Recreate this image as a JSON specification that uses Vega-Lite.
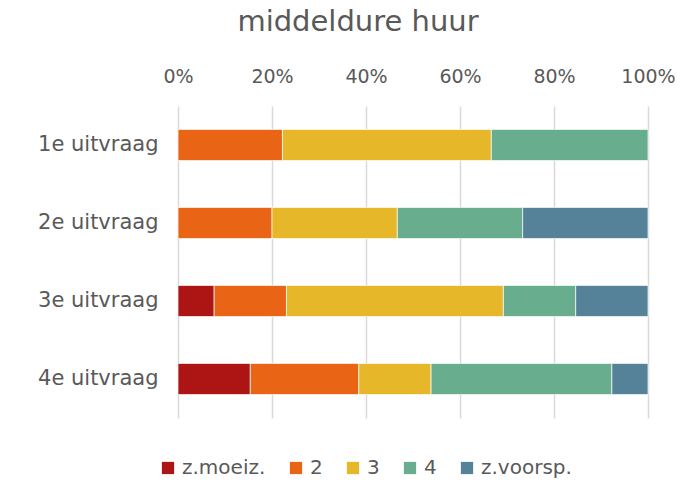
{
  "$schema": "https://vega.github.io/schema/vega-lite/v6.json",
  "width": 470,
  "height": 312,
  "autosize": {"type": "none"},
  "padding": {"left": 178, "top": 106, "right": 34, "bottom": 66},
  "background": "white",
  "config": {"font": "DejaVu Sans", "view": {"stroke": null}},
  "title": {
    "text": "middeldure huur",
    "fontSize": 29,
    "fontWeight": "normal",
    "color": "#595959",
    "anchor": "middle",
    "offset": 30,
    "dx": -55
  },
  "data": {
    "values": [
      {"vraag": "1e uitvraag", "cat": "2", "n": 2, "k": 2},
      {"vraag": "1e uitvraag", "cat": "3", "n": 4, "k": 3},
      {"vraag": "1e uitvraag", "cat": "4", "n": 3, "k": 4},
      {"vraag": "2e uitvraag", "cat": "2", "n": 3, "k": 2},
      {"vraag": "2e uitvraag", "cat": "3", "n": 4, "k": 3},
      {"vraag": "2e uitvraag", "cat": "4", "n": 4, "k": 4},
      {"vraag": "2e uitvraag", "cat": "z.voorsp.", "n": 4, "k": 5},
      {"vraag": "3e uitvraag", "cat": "z.moeiz.", "n": 1, "k": 1},
      {"vraag": "3e uitvraag", "cat": "2", "n": 2, "k": 2},
      {"vraag": "3e uitvraag", "cat": "3", "n": 6, "k": 3},
      {"vraag": "3e uitvraag", "cat": "4", "n": 2, "k": 4},
      {"vraag": "3e uitvraag", "cat": "z.voorsp.", "n": 2, "k": 5},
      {"vraag": "4e uitvraag", "cat": "z.moeiz.", "n": 2, "k": 1},
      {"vraag": "4e uitvraag", "cat": "2", "n": 3, "k": 2},
      {"vraag": "4e uitvraag", "cat": "3", "n": 2, "k": 3},
      {"vraag": "4e uitvraag", "cat": "4", "n": 5, "k": 4},
      {"vraag": "4e uitvraag", "cat": "z.voorsp.", "n": 1, "k": 5}
    ]
  },
  "mark": {"type": "bar", "stroke": "white", "strokeWidth": 0.7},
  "encoding": {
    "y": {
      "field": "vraag",
      "type": "nominal",
      "title": null,
      "scale": {"paddingInner": 0.6, "paddingOuter": 0.3},
      "axis": {
        "domain": false,
        "ticks": false,
        "labelFontSize": 21,
        "labelColor": "#595959",
        "labelPadding": 20
      }
    },
    "x": {
      "field": "n",
      "type": "quantitative",
      "stack": "normalize",
      "title": null,
      "scale": {"domain": [0, 1], "nice": false},
      "axis": {
        "orient": "top",
        "format": ".0%",
        "values": [0, 0.2, 0.4, 0.6, 0.8, 1],
        "domain": false,
        "ticks": false,
        "grid": true,
        "gridColor": "#d9d9d9",
        "gridWidth": 1.5,
        "labelFontSize": 19,
        "labelColor": "#595959",
        "labelPadding": 20,
        "labelFlush": false
      }
    },
    "order": {"field": "k", "type": "quantitative"},
    "color": {
      "field": "cat",
      "type": "nominal",
      "sort": ["z.moeiz.", "2", "3", "4", "z.voorsp."],
      "scale": {
        "domain": ["z.moeiz.", "2", "3", "4", "z.voorsp."],
        "range": ["#AD1515", "#E96414", "#E6B729", "#67AD8E", "#558299"]
      },
      "legend": {
        "title": null,
        "orient": "none",
        "direction": "horizontal",
        "legendX": -20,
        "legendY": 352,
        "symbolType": "square",
        "symbolSize": 150,
        "symbolStrokeWidth": 0,
        "labelFontSize": 20,
        "labelColor": "#595959",
        "columnPadding": 20,
        "labelOffset": 4
      }
    }
  }
}
